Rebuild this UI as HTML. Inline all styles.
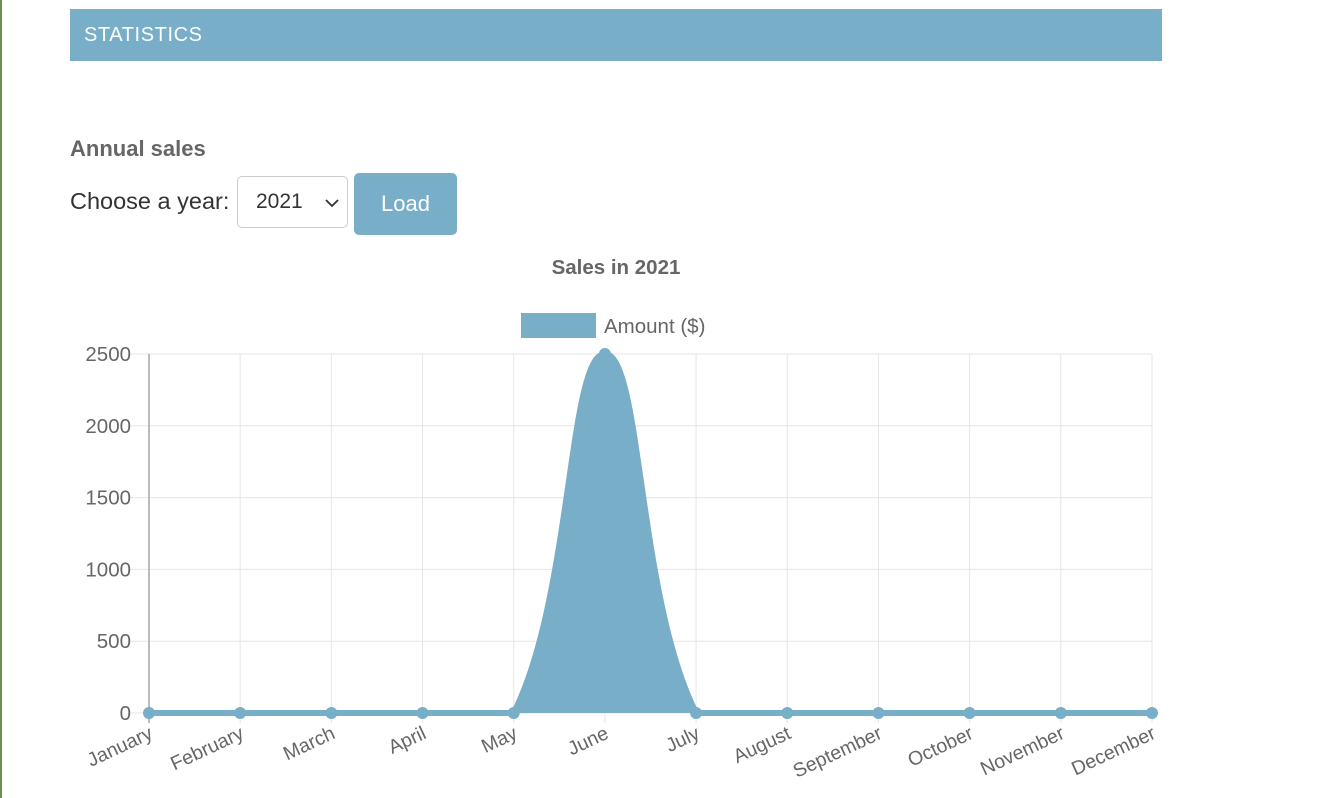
<!DOCTYPE html>
<html><head><meta charset="utf-8">
<style>
body{margin:0;width:1319px;height:798px;background:#fff;position:relative;overflow:hidden;font-family:"Liberation Sans",sans-serif;}
#edge{position:absolute;left:0;top:0;width:2px;height:798px;background:#6b8f4e;}
#hdr{position:absolute;left:70px;top:9px;width:1092px;height:52px;background:#79aec8;color:#fff;font-size:20px;letter-spacing:0.6px;line-height:52px;box-sizing:border-box;padding-left:14px;}
#h2{position:absolute;left:70px;top:136px;font-size:22px;font-weight:bold;color:#666;}
#lbl{position:absolute;left:70px;top:188px;font-size:23.5px;color:#333;}
#sel{position:absolute;left:237px;top:176px;width:111px;height:52px;border:1px solid #ccc;border-radius:5px;font-size:21px;color:#333;box-sizing:border-box;padding:13px 0 0 18px;}
#btn{position:absolute;left:354px;top:173px;width:103px;height:62px;background:#79aec8;border-radius:5px;color:#fff;font-size:22px;text-align:center;line-height:62px;}
svg{position:absolute;left:0;top:0;}
</style></head><body>
<div id="edge"></div>
<div id="hdr">STATISTICS</div>
<div id="h2">Annual sales</div>
<div id="lbl">Choose a year:</div>
<div id="sel">2021<svg style="left:87px;top:21px" width="14" height="10" viewBox="0 0 14 10"><path d="M1 2 L7 8 L13 2" fill="none" stroke="#333" stroke-width="1.8"/></svg></div>
<div id="btn">Load</div>
<svg id="chart" width="1319" height="798">
<text x="616" y="274" text-anchor="middle" font-size="20.5" font-weight="bold" fill="#666">Sales in 2021</text>
<rect x="521" y="313" width="75" height="25" fill="#79aec8"/>
<text x="604" y="333" font-size="20.5" fill="#666">Amount ($)</text>
<g id="grid"></g><g id="series"></g><g id="labels"></g>
</svg>
<script>
const months=["January","February","March","April","May","June","July","August","September","October","November","December"];
const amounts=[0,0,0,0,0,2500,0,0,0,0,0,0];
const yTicks=[0,500,1000,1500,2000,2500];
const NS="http://www.w3.org/2000/svg";
const X0=149,X1=1152,Y0=713,Y1=354,YMAX=2500;
function xs(i){return X0+(X1-X0)*i/(months.length-1);}
function ys(v){return Y0-(Y0-Y1)*v/YMAX;}
function mk(t,a,p){const e=document.createElementNS(NS,t);for(const k in a)e.setAttribute(k,a[k]);p.appendChild(e);return e;}
const grid=document.getElementById('grid'),ser=document.getElementById('series'),lab=document.getElementById('labels');
yTicks.forEach(v=>{
  const l=mk('line',{x1:131,x2:X1,y1:ys(v),y2:ys(v),stroke:'#e5e5e5','stroke-width':1},grid);
  
  
  const t=mk('text',{x:131,y:ys(v)+7,'text-anchor':'end','font-size':20.5,fill:'#666'},lab);
  t.textContent=v;
  
  
});
months.forEach((m,i)=>{
  const l=mk('line',{x1:xs(i),x2:xs(i),y1:Y1,y2:Y0+10,stroke:i==0?'#bbb':'#e5e5e5','stroke-width':i==0?2:1},grid);
  
  
  const t=mk('text',{x:0,y:0,'text-anchor':'end','font-size':19.5,fill:'#666',transform:`translate(${xs(i)-1},${Y0+12}) rotate(-25) translate(0,14)`},lab);
  t.textContent=m;
  
  
});
const pts=amounts.map((v,i)=>({x:xs(i),y:ys(v)}));
const T=0.4,cps=[];
pts.forEach((p,i)=>{
  const pr=pts[Math.max(0,i-1)],nx=pts[Math.min(pts.length-1,i+1)];
  const d01=Math.hypot(p.x-pr.x,p.y-pr.y),d12=Math.hypot(nx.x-p.x,nx.y-p.y);
  let fa=d01/(d01+d12)||0,fb=d12/(d01+d12)||0;
  fa*=T;fb*=T;
  cps.push({px:p.x-fa*(nx.x-pr.x),py:Math.min(Y0,Math.max(Y1-2,p.y-fa*(nx.y-pr.y))),nx:p.x+fb*(nx.x-pr.x),ny:Math.min(Y0,Math.max(Y1-2,p.y+fb*(nx.y-pr.y)))});
});
let d=`M${pts[0].x},${pts[0].y}`;
for(let i=1;i<pts.length;i++)d+=` C${cps[i-1].nx},${cps[i-1].ny} ${cps[i].px},${cps[i].py} ${pts[i].x},${pts[i].y}`;
const area=mk('path',{d:d+` L${X1},${Y0} L${X0},${Y0} Z`,fill:'#79aec8'},ser);


const line=mk('path',{d:d,fill:'none',stroke:'#79aec8','stroke-width':6},ser);


pts.forEach(p=>{
  const c=mk('circle',{cx:p.x,cy:p.y,r:6,fill:'#79aec8'},ser);
  
  
});
</script>
</body></html>
